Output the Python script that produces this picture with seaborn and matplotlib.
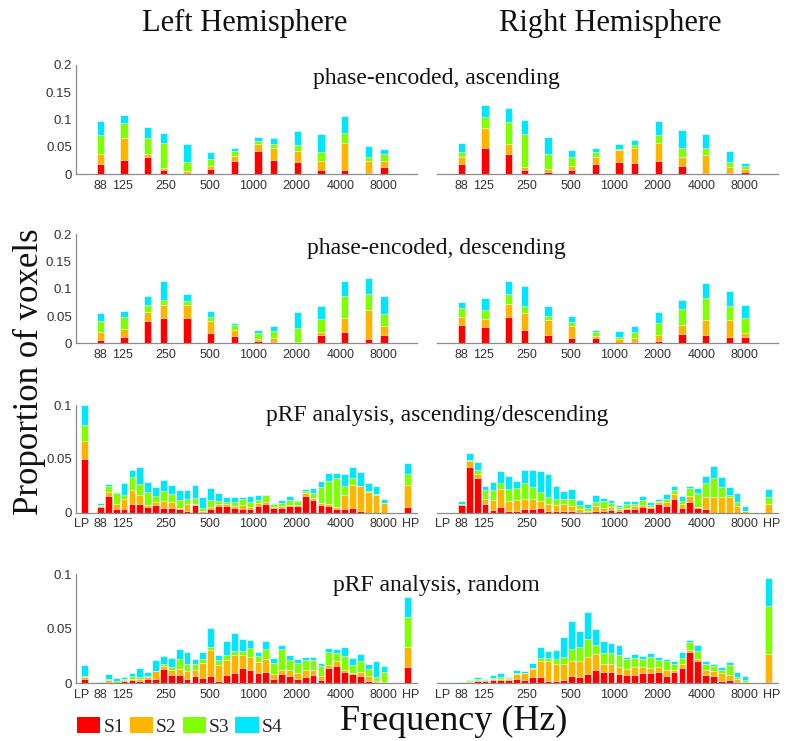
import numpy as np
import pandas as pd
import seaborn as sns
import matplotlib.pyplot as plt
from matplotlib.patches import Patch
from matplotlib.transforms import ScaledTranslation

# band centre frequencies (Hz)
phase_freqs = [88, 128.1, 186.6, 239.7, 349.1, 508.3, 740.2, 1077.9, 1384.8,
               2016.5, 2936.4, 4275.9, 6226.4, 8000]
prf_freqs = [88, 99.7, 113.1, 128.1, 145.2, 164.6, 186.6, 211.5, 239.7, 271.7,
             308.0, 349.1, 395.7, 448.5, 508.3, 576.2, 653.1, 740.2, 839.0, 951.0,
             1077.9, 1221.8, 1384.8, 1569.6, 1779.1, 2016.5, 2285.6, 2590.7, 2936.4,
             3328.3, 3772.5, 4275.9, 4846.5, 5493.3, 6226.4, 7057.4, 8000]
tick_freqs = [88, 125, 250, 500, 1000, 2000, 4000, 8000]
tick_labels = ['88', '125', '250', '500', '1000', '2000', '4000', '8000']
subjects = ['S1', 'S2', 'S3', 'S4']
colors = ['#ff0000', '#ffb400', '#80ff00', '#00e6ff']

# phase-encoded, ascending
asc_L_s1 = [0.018, 0.027, 0.032, 0.007, 0.002, 0.009, 0.025, 0.043, 0.026, 0.023, 0.007, 0.007, 0.002, 0.014]
asc_L_s2 = [0.019, 0.039, 0.005, 0.005, 0.004, 0.007, 0.009, 0.012, 0.023, 0.020, 0.017, 0.050, 0.023, 0.010]
asc_L_s3 = [0.035, 0.027, 0.029, 0.045, 0.016, 0.012, 0.008, 0.005, 0.007, 0.010, 0.017, 0.018, 0.007, 0.014]
asc_L_s4 = [0.026, 0.016, 0.020, 0.018, 0.033, 0.013, 0.007, 0.009, 0.010, 0.026, 0.032, 0.031, 0.019, 0.008]
asc_R_s1 = [0.0195, 0.048, 0.037, 0.008, 0.004, 0.008, 0.018, 0.023, 0.021, 0.024, 0.016, 0.002, 0.002, 0.005]
asc_R_s2 = [0.0115, 0.036, 0.019, 0.006, 0.005, 0.008, 0.014, 0.022, 0.028, 0.033, 0.016, 0.033, 0.011, 0.004]
asc_R_s3 = [0.009, 0.020, 0.040, 0.060, 0.029, 0.016, 0.009, 0.002, 0.005, 0.014, 0.017, 0.014, 0.009, 0.006]
asc_R_s4 = [0.017, 0.023, 0.025, 0.026, 0.031, 0.013, 0.007, 0.008, 0.009, 0.027, 0.032, 0.024, 0.021, 0.005]

# phase-encoded, descending
desc_L_s1 = [0.006, 0.011, 0.041, 0.046, 0.047, 0.019, 0.013, 0.005, 0.003, 0.001, 0.016, 0.020, 0.008, 0.015]
desc_L_s2 = [0.015, 0.016, 0.016, 0.024, 0.023, 0.022, 0.012, 0.003, 0.007, 0.002, 0.005, 0.026, 0.053, 0.017]
desc_L_s3 = [0.020, 0.022, 0.013, 0.009, 0.007, 0.008, 0.008, 0.010, 0.012, 0.026, 0.024, 0.041, 0.029, 0.022]
desc_L_s4 = [0.015, 0.011, 0.016, 0.036, 0.014, 0.011, 0.005, 0.006, 0.010, 0.029, 0.023, 0.027, 0.029, 0.033]
desc_R_s1 = [0.034, 0.030, 0.048, 0.024, 0.015, 0.010, 0.009, 0.001, 0.002, 0.004, 0.017, 0.016, 0.012, 0.011]
desc_R_s2 = [0.015, 0.014, 0.025, 0.031, 0.028, 0.022, 0.004, 0.006, 0.008, 0.012, 0.016, 0.027, 0.031, 0.007]
desc_R_s3 = [0.015, 0.018, 0.017, 0.013, 0.008, 0.008, 0.007, 0.005, 0.010, 0.021, 0.030, 0.041, 0.026, 0.029]
desc_R_s4 = [0.011, 0.021, 0.025, 0.038, 0.018, 0.010, 0.005, 0.011, 0.012, 0.020, 0.016, 0.026, 0.027, 0.023]

# pRF analysis, ascending/descending  (LP, 37 bands, HP)
ad_L_s1 = [0.050, 0.005, 0.0155, 0.003, 0.0034, 0.0077, 0.0077, 0.005, 0.007, 0.0046, 0.0046,
           0.003, 0.002, 0.007, 0.001, 0.003, 0.0065, 0.0065, 0.004, 0.0034, 0.0034,
           0.0065, 0.008, 0.0046, 0.0046, 0.006, 0.006, 0.0155, 0.0118, 0.0068, 0.0065,
           0.0037, 0.003, 0.0043, 0.002, 0.0, 0.0, 0.0, 0.005]
ad_L_s2 = [0.017, 0.001, 0.004, 0.005, 0.0093, 0.0133, 0.009, 0.002, 0.003, 0.0062, 0.005,
           0.0016, 0.0057, 0.001, 0.0005, 0.0026, 0.0012, 0.0015, 0.002, 0.0036, 0.0016,
           0.0022, 0.0016, 0.001, 0.0014, 0.0008, 0.001, 0.0025, 0.0022, 0.0022, 0.0015,
           0.0019, 0.0137, 0.0214, 0.0225, 0.0195, 0.0167, 0.0093, 0.0207]
ad_L_s3 = [0.014, 0.001, 0.0055, 0.0106, 0.0033, 0.012, 0.0103, 0.0125, 0.0055, 0.0092, 0.0074,
           0.0074, 0.0053, 0.0056, 0.0025, 0.0059, 0.0033, 0.002, 0.004, 0.0057, 0.0046,
           0.0033, 0.0068, 0.0021, 0.0033, 0.0052, 0.004, 0.002, 0.0046, 0.015, 0.021,
           0.0264, 0.0083, 0.0063, 0.0005, 0.0005, 0.0005, 0.0, 0.0099]
ad_L_s4 = [0.019, 0.002, 0.002, 0.001, 0.012, 0.007, 0.015, 0.009, 0.0085, 0.010, 0.009,
           0.009, 0.008, 0.0124, 0.011, 0.0115, 0.007, 0.005, 0.005, 0.0023, 0.0059,
           0.004, 0.0, 0.0016, 0.0022, 0.0038, 0.0005, 0.002, 0.0044, 0.005, 0.008,
           0.005, 0.0106, 0.010, 0.013, 0.008, 0.0078, 0.0034, 0.0104]
ad_R_s1 = [0.0, 0.007, 0.0424, 0.032, 0.0077, 0.0025, 0.005, 0.0015, 0.0015, 0.003, 0.003,
           0.0046, 0.002, 0.002, 0.0015, 0.0019, 0.001, 0.0006, 0.0015, 0.002, 0.0028,
           0.0015, 0.003, 0.003, 0.0053, 0.0046, 0.0077, 0.0065, 0.0124, 0.0046, 0.0099,
           0.0046, 0.0034, 0.0, 0.0, 0.0, 0.0, 0.0, 0.0]
ad_R_s2 = [0.0, 0.001, 0.0056, 0.004, 0.0053, 0.0093, 0.0167, 0.0095, 0.0103, 0.0097, 0.0097,
           0.0062, 0.006, 0.005, 0.0062, 0.0041, 0.0027, 0.0014, 0.0045, 0.0026, 0.0022,
           0.0019, 0.0016, 0.003, 0.0015, 0.001, 0.0022, 0.0031, 0.0046, 0.0031, 0.0056,
           0.001, 0.0116, 0.015, 0.015, 0.015, 0.006, 0.0015, 0.008]
ad_R_s3 = [0.0, 0.0, 0.001, 0.004, 0.008, 0.0092, 0.0063, 0.011, 0.0108, 0.0153, 0.0113,
           0.0082, 0.007, 0.006, 0.0053, 0.0067, 0.0031, 0.002, 0.004, 0.0059, 0.004,
           0.0016, 0.0031, 0.002, 0.0052, 0.0014, 0.0009, 0.0034, 0.0037, 0.0031, 0.0075,
           0.0124, 0.013, 0.0175, 0.009, 0.001, 0.004, 0.0005, 0.007]
ad_R_s4 = [0.0, 0.0025, 0.0067, 0.007, 0.004, 0.0075, 0.0107, 0.012, 0.0064, 0.012, 0.016,
           0.020, 0.0206, 0.0118, 0.0074, 0.0093, 0.0052, 0.004, 0.0064, 0.0035, 0.0025,
           0.0024, 0.0031, 0.0028, 0.0038, 0.0029, 0.0019, 0.0046, 0.0043, 0.005, 0.002,
           0.005, 0.006, 0.0108, 0.009, 0.008, 0.008, 0.004, 0.0067]

# pRF analysis, random  (LP, 37 bands, HP)
rnd_L_s1 = [0.0043, 0.0, 0.0012, 0.0, 0.002, 0.003, 0.0024, 0.0043, 0.0043, 0.013, 0.0073,
            0.0073, 0.0043, 0.0067, 0.0052, 0.0067, 0.002, 0.0076, 0.009, 0.0144, 0.012,
            0.009, 0.0107, 0.004, 0.0086, 0.007, 0.0037, 0.0058, 0.008, 0.003, 0.014,
            0.0156, 0.0104, 0.0083, 0.0067, 0.0024, 0.0015, 0.0006, 0.0153]
rnd_L_s2 = [0.0012, 0.0, 0.0016, 0.0006, 0.0008, 0.0013, 0.0013, 0.0012, 0.0067, 0.003, 0.0047,
            0.0057, 0.007, 0.0053, 0.0138, 0.0239, 0.015, 0.0138, 0.017, 0.0116, 0.0125,
            0.0106, 0.0113, 0.0046, 0.0034, 0.005, 0.0061, 0.0062, 0.004, 0.004, 0.003,
            0.0044, 0.0016, 0.0015, 0.0037, 0.0043, 0.0003, 0.0006, 0.0183]
rnd_L_s3 = [0.0012, 0.0, 0.0009, 0.0012, 0.0009, 0.0024, 0.0018, 0.0012, 0.0, 0.0014, 0.0033,
            0.009, 0.0067, 0.0054, 0.0033, 0.0024, 0.004, 0.0049, 0.004, 0.004, 0.0082,
            0.0054, 0.009, 0.0097, 0.019, 0.0094, 0.0085, 0.009, 0.0094, 0.009, 0.012,
            0.008, 0.013, 0.0072, 0.0101, 0.0063, 0.0037, 0.0095, 0.0269]
rnd_L_s4 = [0.0098, 0.0015, 0.0049, 0.0028, 0.0023, 0.0023, 0.0089, 0.0037, 0.010, 0.0076, 0.0077,
            0.009, 0.0104, 0.0052, 0.0064, 0.018, 0.005, 0.0125, 0.0159, 0.011, 0.0073,
            0.004, 0.0078, 0.0049, 0.004, 0.0043, 0.0043, 0.003, 0.0026, 0.0027, 0.0037,
            0.0038, 0.008, 0.0065, 0.0065, 0.0044, 0.015, 0.0049, 0.0185]
rnd_R_s1 = [0.0, 0.0002, 0.0006, 0.002, 0.0018, 0.003, 0.003, 0.003, 0.0043, 0.003, 0.0055,
            0.0055, 0.002, 0.002, 0.003, 0.0067, 0.0055, 0.0086, 0.0122, 0.0107, 0.010,
            0.0086, 0.0076, 0.0076, 0.0092, 0.0092, 0.010, 0.007, 0.0104, 0.0138, 0.0284,
            0.0205, 0.0076, 0.0067, 0.0024, 0.003, 0.0015, 0.0006, 0.0015]
rnd_R_s2 = [0.0, 0.0, 0.0006, 0.001, 0.0006, 0.001, 0.0013, 0.001, 0.0043, 0.0062, 0.0075,
            0.0153, 0.0185, 0.016, 0.015, 0.0141, 0.0153, 0.0153, 0.0144, 0.0073, 0.008,
            0.0067, 0.0052, 0.0077, 0.0061, 0.0052, 0.0053, 0.0052, 0.0018, 0.0042, 0.0022,
            0.0018, 0.0046, 0.0049, 0.0074, 0.0046, 0.0022, 0.0009, 0.0255]
rnd_R_s3 = [0.0, 0.0, 0.0006, 0.0006, 0.0006, 0.001, 0.0012, 0.0012, 0.0006, 0.0006, 0.0008,
            0.0022, 0.0025, 0.004, 0.0059, 0.0102, 0.0122, 0.0168, 0.0084, 0.0095, 0.0095,
            0.0107, 0.0092, 0.0077, 0.007, 0.0101, 0.0061, 0.0083, 0.0058, 0.005, 0.0074,
            0.0077, 0.0058, 0.0044, 0.0024, 0.0092, 0.0023, 0.0015, 0.0443]
rnd_R_s4 = [0.0, 0.0008, 0.0016, 0.0019, 0.0013, 0.0023, 0.0037, 0.0008, 0.003, 0.0018, 0.0052,
            0.010, 0.0067, 0.0086, 0.0189, 0.0265, 0.015, 0.0247, 0.0145, 0.0113, 0.0098,
            0.009, 0.0025, 0.004, 0.0031, 0.003, 0.0025, 0.0015, 0.0028, 0.006, 0.0018,
            0.005, 0.002, 0.0017, 0.0025, 0.0025, 0.004, 0.0037, 0.0257]

# where the LP / HP bars sit on the frequency axis (layout only)
LP_HZ, HP_HZ = 68.5, 11650
XLIM = (5.9, 13.72)

sns.set_style("white")
plt.rcParams['font.family'] = ['Liberation Sans', 'DejaVu Sans']
serif = ['Liberation Serif', 'DejaVu Serif']

fig = plt.figure(figsize=(7.87, 7.41), dpi=100)

rows = [
    ('phase-encoded, ascending', phase_freqs, False, 0.2,
     [asc_L_s1, asc_L_s2, asc_L_s3, asc_L_s4], [asc_R_s1, asc_R_s2, asc_R_s3, asc_R_s4]),
    ('phase-encoded, descending', phase_freqs, False, 0.2,
     [desc_L_s1, desc_L_s2, desc_L_s3, desc_L_s4], [desc_R_s1, desc_R_s2, desc_R_s3, desc_R_s4]),
    ('pRF analysis, ascending/descending', prf_freqs, True, 0.1,
     [ad_L_s1, ad_L_s2, ad_L_s3, ad_L_s4], [ad_R_s1, ad_R_s2, ad_R_s3, ad_R_s4]),
    ('pRF analysis, random', prf_freqs, True, 0.1,
     [rnd_L_s1, rnd_L_s2, rnd_L_s3, rnd_L_s4], [rnd_R_s1, rnd_R_s2, rnd_R_s3, rnd_R_s4]),
]
row_bottoms = [0.7648, 0.5367, 0.3081, 0.0779]
row_heights = [0.1475, 0.1471, 0.1453, 0.1471]
title_y = [0.8947, 0.6653, 0.4386, 0.2105]
col_lefts = [0.0966, 0.5553]


def draw_panel(ax, freqs, with_lp_hp, segs, ymax, show_y):
    xs = list(freqs)
    if with_lp_hp:
        xs = [LP_HZ] + xs + [HP_HZ]
    cum = np.cumsum(np.array(segs), axis=0)
    width = 0.86 if with_lp_hp else 0.46
    for k in range(3, -1, -1):
        df = pd.DataFrame({'x': np.log2(xs), 'y': cum[k]})
        sns.barplot(data=df, x='x', y='y', native_scale=True, color=colors[k],
                    saturation=1, width=width, errorbar=None,
                    edgecolor='white', linewidth=0.4, ax=ax)
    ax.set_xlim(*XLIM)
    ax.set_ylim(0, ymax)
    ticks = list(np.log2(tick_freqs))
    labels = list(tick_labels)
    if with_lp_hp:
        ticks = [np.log2(LP_HZ)] + ticks + [np.log2(HP_HZ)]
        labels = ['LP'] + labels + ['HP']
    ax.set_xticks(ticks)
    ax.set_xticklabels(labels)
    ax.set_xlabel('')
    ax.set_ylabel('')
    ax.tick_params(axis='x', length=0, pad=4, labelsize=9, colors='#333333')
    if with_lp_hp:
        tl = ax.get_xticklabels()
        tl[0].set_transform(tl[0].get_transform() +
                            ScaledTranslation(-2 / 72, 0, fig.dpi_scale_trans))
        tl[-1].set_transform(tl[-1].get_transform() +
                             ScaledTranslation(2.5 / 72, 0, fig.dpi_scale_trans))
    for s in ['top', 'right']:
        ax.spines[s].set_visible(False)
    ax.spines['bottom'].set_color('#8c8c8c')
    ax.spines['bottom'].set_linewidth(0.9)
    if show_y:
        yt = [0, 0.05, 0.1, 0.15, 0.2] if ymax > 0.15 else [0, 0.05, 0.1]
        ax.set_yticks(yt)
        ax.set_yticklabels(['0' if v == 0 else ('%g' % v) for v in yt])
        ax.tick_params(axis='y', direction='in', length=3, labelsize=9.5,
                       colors='#333333', pad=3)
        ax.spines['left'].set_color('#8c8c8c')
        ax.spines['left'].set_linewidth(0.9)
    else:
        ax.spines['left'].set_visible(False)
        ax.set_yticks([])
    ax.set_facecolor('none')


for r, (title, freqs, lphp, ymax, left, right) in enumerate(rows):
    for c, segs in enumerate([left, right]):
        ax = fig.add_axes([col_lefts[c], row_bottoms[r], 0.433, row_heights[r]])
        draw_panel(ax, freqs, lphp, segs, ymax, show_y=(c == 0))
    fig.text(0.555, title_y[r], title, ha='center', va='center',
             fontsize=17, family=serif, color='#111111')

fig.text(0.311, 0.968, 'Left Hemisphere', ha='center', va='center',
         fontsize=22, family=serif, color='#111111')
fig.text(0.775, 0.968, 'Right Hemisphere', ha='center', va='center',
         fontsize=22, family=serif, color='#111111')
fig.text(0.038, 0.498, 'Proportion of voxels', rotation=90, ha='center',
         va='center', fontsize=25, family=serif, color='#111111')
fig.text(0.577, 0.027, 'Frequency (Hz)', ha='center', va='center',
         fontsize=26, family=serif, color='#111111')

handles = [Patch(facecolor=col, edgecolor='none', label=s)
           for col, s in zip(colors, subjects)]
fig.legend(handles=handles, loc='center left', bbox_to_anchor=(0.088, 0.02),
           ncol=4, frameon=False, handlelength=1.2, handleheight=0.9,
           handletextpad=0.15, columnspacing=0.3, borderaxespad=0,
           prop={'family': serif, 'size': 14})

fig.savefig('out.png', dpi=100, facecolor='white')
